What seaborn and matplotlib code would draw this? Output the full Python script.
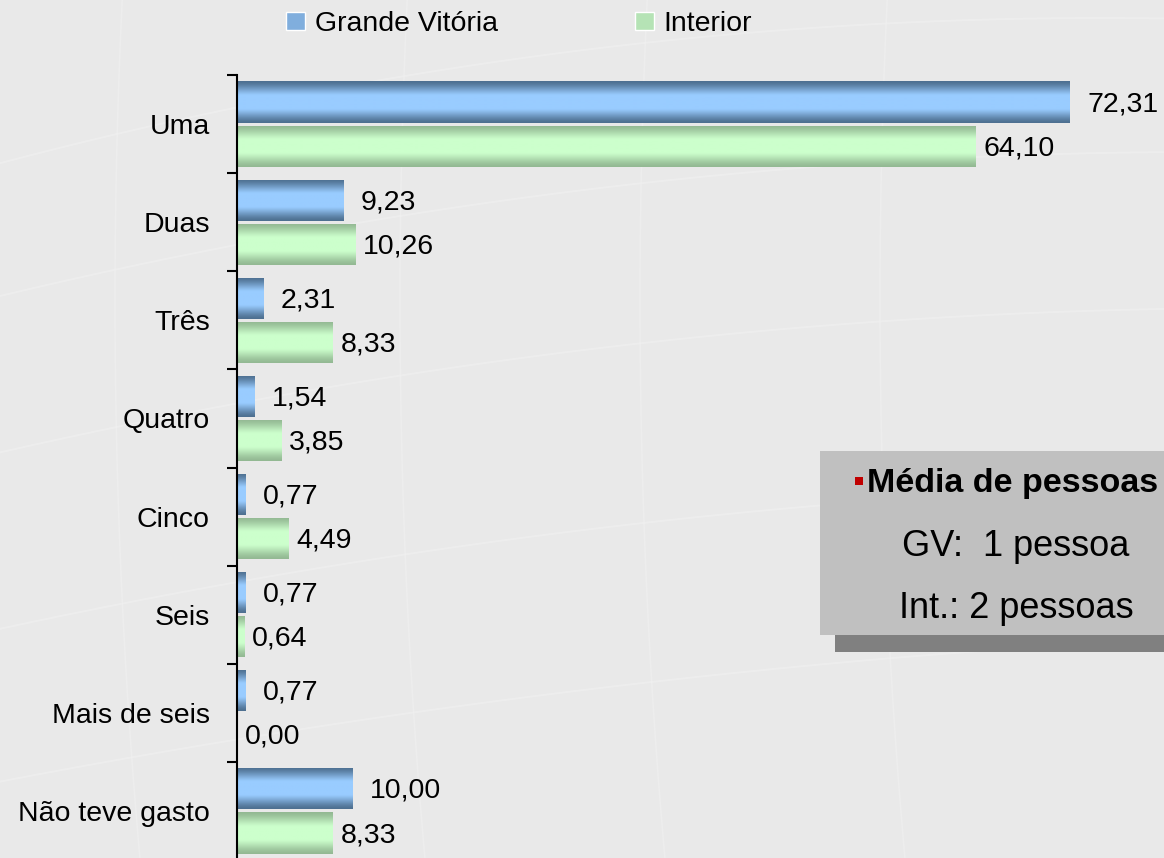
import numpy as np
import pandas as pd
import matplotlib
matplotlib.use("Agg")
import matplotlib.pyplot as plt
import seaborn as sns
from matplotlib.patches import Rectangle
from matplotlib.colors import LinearSegmentedColormap

# Number of people per household with the expense (%)
categories = ["Uma", "Duas", "Três", "Quatro", "Cinco", "Seis",
              "Mais de seis", "Não teve gasto"]
grande_vitoria = [72.31, 9.23, 2.31, 1.54, 0.77, 0.77, 0.77, 10.00]
interior = [64.10, 10.26, 8.33, 3.85, 4.49, 0.64, 0.00, 8.33]
series_names = ["Grande Vitória", "Interior"]

box_title = "Média de pessoas"
box_lines = ["GV:  1 pessoa", "Int.: 2 pessoas"]

df = pd.DataFrame({
    "categoria": categories * 2,
    "valor": grande_vitoria + interior,
    "regiao": [series_names[0]] * len(categories) + [series_names[1]] * len(categories),
})

sns.set_theme(style="white")
plt.rcParams["font.family"] = ["Liberation Sans", "DejaVu Sans"]
plt.rcParams["text.color"] = "black"

W, H = 1164, 858
FS = 20.5

fig = plt.figure(figsize=(W / 100, H / 100), dpi=100)
fig.patch.set_facecolor("#E9E9E9")

# faint background arcs
bg = fig.add_axes([0, 0, 1, 1], zorder=-5)
bg.set_xlim(0, W)
bg.set_ylim(H, 0)
bg.axis("off")
xs = np.linspace(0, W, 200)
for y0, k in [(120, 0.00012), (260, 0.0001), (420, 0.00009), (600, 0.00008), (760, 0.00006)]:
    bg.plot(xs, y0 - 0.12 * xs + k * (xs - 600) ** 2, color="#F2F2F2", lw=1.3, alpha=0.55)
for x0 in [115, 400, 640, 880]:
    ys = np.linspace(0, H, 200)
    bg.plot(x0 + 0.00008 * (ys - 300) ** 2, ys, color="#F1F1F1", lw=1.2, alpha=0.5)

ax = fig.add_axes([237 / W, -2 / H, 1 - 237 / W, 785 / H])
ax.set_facecolor("none")

palette = {series_names[0]: "#80AEDD", series_names[1]: "#B5E3B5"}
sns.barplot(data=df, y="categoria", x="valor", hue="regiao", order=categories,
            hue_order=series_names, palette=palette, orient="h", width=0.9,
            gap=0.07, saturation=1, errorbar=None, ax=ax)

xmax = (W - 237) / ((1070 - 237) / 72.31)
ylim = (len(categories) - 0.5, -0.5)

# glossy vertical gradient on each bar
grad_maps = [
    LinearSegmentedColormap.from_list("gv", ["#4E7091", "#99CCFF"]),
    LinearSegmentedColormap.from_list("int", ["#93B993", "#CCFFCC"]),
]
t = np.linspace(0, 1, 96)
profile = (np.clip(np.sin(np.pi * t) * 1.15, 0, 1) ** 1.5).reshape(-1, 1)
for cont, cmap in zip(ax.containers, grad_maps):
    for p in cont.patches:
        x0, y0, w, h = p.get_x(), p.get_y(), p.get_width(), p.get_height()
        p.set_edgecolor("none")
        if w <= 0:
            continue
        im = ax.imshow(profile, extent=(x0, x0 + w, y0 + h, y0), cmap=cmap,
                       vmin=0, vmax=1, aspect="auto", interpolation="bilinear",
                       zorder=p.get_zorder() + 0.1)
        im.set_clip_path(p)
ax.set_xlim(0, xmax)
ax.set_ylim(*ylim)

# value labels
fmt = lambda v: f"{v:.2f}".replace(".", ",")
for cont, vals, pad in zip(ax.containers, [grande_vitoria, interior], [12.5, 5.5]):
    anns = ax.bar_label(cont, labels=[fmt(v) for v in vals], padding=pad,
                        fontsize=FS, color="black")
    for a in anns:
        a.xyann = (a.xyann[0], -1.5)

# axes styling
for s in ["top", "right", "bottom"]:
    ax.spines[s].set_visible(False)
ax.spines["left"].set_color("black")
ax.spines["left"].set_linewidth(1.5)
ax.set_xlabel("")
ax.set_ylabel("")
ax.set_xticks([])
ax.set_yticks(range(len(categories)))
ax.set_yticklabels(categories, fontsize=FS)
ax.set_yticks(np.arange(-0.5, len(categories) + 0.5, 1), minor=True)
ax.tick_params(axis="y", which="major", length=0, pad=19.5, colors="black")
ax.tick_params(axis="y", which="minor", length=7.5, width=1.5, color="black",
               direction="out", left=True)

sns.move_legend(ax, "center left", bbox_to_anchor=(286 / W, 1 - 24 / H),
                bbox_transform=fig.transFigure, ncol=2, frameon=False, title=None,
                fontsize=FS, handlelength=0.67, handleheight=0.63,
                handletextpad=0.35, columnspacing=4.8, borderpad=0, borderaxespad=0)
for txt in ax.get_legend().get_texts():
    txt.set_color("black")

# summary box with shadow
fig.add_artist(Rectangle((835 / W, 1 - 652 / H), 0.3, (652 - 468) / H,
                         transform=fig.transFigure, facecolor="#808080",
                         edgecolor="none", zorder=5))
fig.add_artist(Rectangle((820 / W, 1 - 635 / H), 0.3, (635 - 451) / H,
                         transform=fig.transFigure, facecolor="#C0C0C0",
                         edgecolor="none", zorder=6))
fig.add_artist(Rectangle((855 / W, 1 - 485 / H), 8 / W, 8 / H,
                         transform=fig.transFigure, facecolor="#C00000",
                         edgecolor="none", zorder=7))
fig.text(867 / W, 1 - 492 / H, box_title, fontsize=24.5, fontweight="semibold",
         ha="left", va="baseline", color="black", zorder=8)
fig.text(1016 / W, 1 - 556 / H, box_lines[0], fontsize=26, ha="center",
         va="baseline", color="black", zorder=8)
fig.text(1016 / W, 1 - 618 / H, box_lines[1], fontsize=26, ha="center",
         va="baseline", color="black", zorder=8)

fig.savefig("out.png", dpi=100, facecolor=fig.get_facecolor())
